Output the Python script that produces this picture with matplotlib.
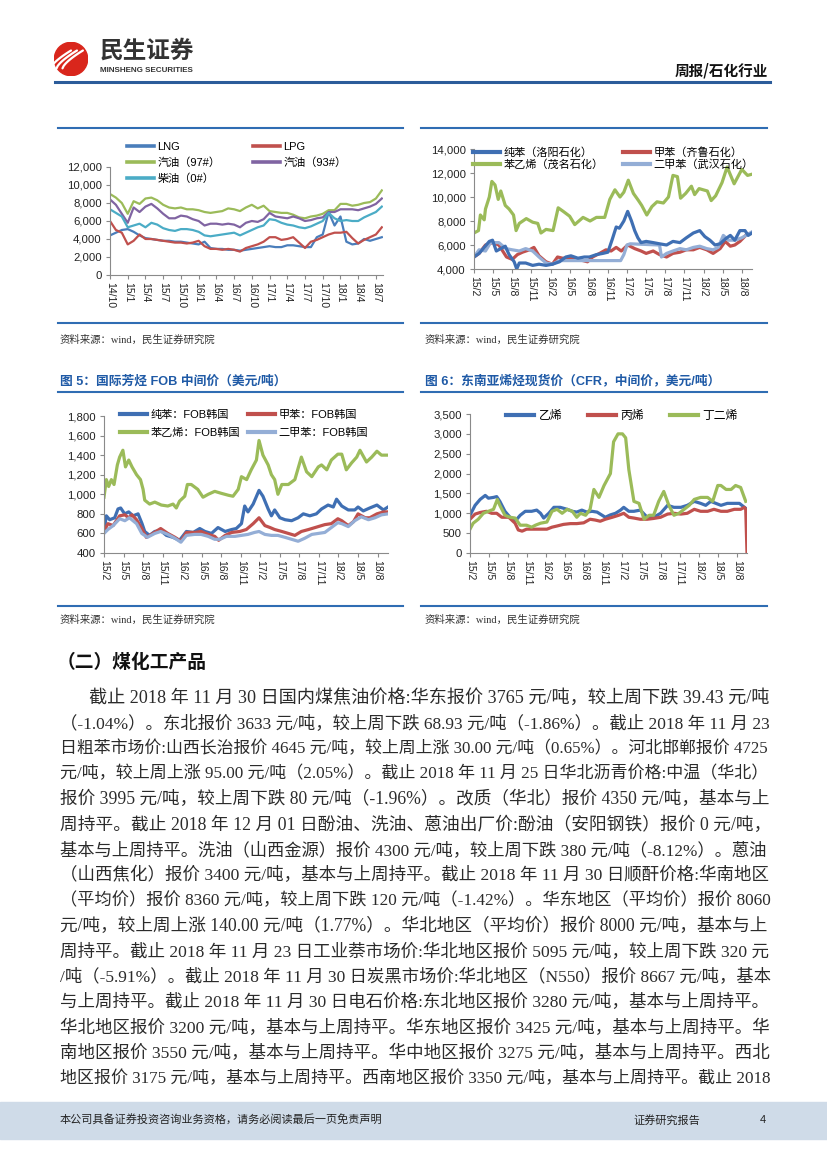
import numpy as np
import matplotlib.pyplot as plt
from matplotlib.font_manager import FontProperties
from matplotlib.legend import Legend
from matplotlib.lines import Line2D
from matplotlib.patches import Circle, Rectangle

CJK = 'Noto Sans CJK SC'
SANS = ['Liberation Sans', CJK]
SERIF = ['Liberation Serif', CJK]
plt.rcParams['font.family'] = SANS

W, H = 827, 1169
BLUE = '#2f6db3'
TITLE_BLUE = '#1f5aa6'

# ---------------- data ----------------
# chart 1: domestic oil products, monthly from 14/10 (yuan/t)
c1_month = list(range(47))
c1_labels = ['14/10', '15/1', '15/4', '15/7', '15/10', '16/1', '16/4', '16/7',
             '16/10', '17/1', '17/4', '17/7', '17/10', '18/1', '18/4', '18/7']
lng = [4400, 4700, 5000, 5100, 4800, 4400, 4100, 4000, 3900, 3800,
       3800, 3700, 3700, 3600, 3500, 3400, 3700, 3000, 2900, 2900,
       2800, 2800, 2700, 2800, 2900, 3000, 3100, 3200, 3100, 3100,
       3300, 3300, 3200, 3100, 3100, 4200, 4500, 7000, 5500, 6500,
       3700, 3400, 3500, 4000, 3800, 4000, 4200]
lpg = [6000, 5000, 4700, 3400, 3800, 4500, 4000, 4000, 3900, 3800,
       3700, 3600, 3600, 3500, 3600, 3800, 3200, 2900, 2900, 2800,
       2900, 2800, 2600, 3000, 3200, 3400, 3700, 4200, 4200, 3900,
       4000, 4200, 3600, 3000, 3700, 3900, 4200, 4500, 4700, 4700,
       4800, 4100, 3500, 3900, 4200, 4500, 5300]
gas97 = [9000, 8600, 8000, 6800, 8200, 7900, 8500, 8600, 8300, 7800,
         7500, 7400, 7500, 7300, 7300, 7200, 7000, 6900, 7000, 7100,
         7400, 7300, 7100, 7500, 7800, 7400, 7700, 7100, 7000, 6900,
         6900, 6700, 6400, 6300, 6500, 6600, 6800, 7200, 7200, 7900,
         7900, 7700, 7800, 8000, 8100, 8500, 9400]
gas93 = [8400, 7800, 6800, 5800, 7500, 7000, 7600, 7900, 7400, 6800,
         6300, 6300, 6600, 6500, 6200, 6000, 5500, 5700, 5700, 5600,
         5700, 5600, 5300, 5800, 6000, 5900, 6200, 6900, 6500, 6400,
         6300, 6500, 6300, 6000, 6100, 6300, 6400, 7000, 7000, 7300,
         7300, 7300, 7200, 7400, 7600, 7900, 8500]
diesel = [7300, 6900, 6500, 5300, 5500, 5700, 5300, 5800, 5600, 5200,
          5000, 4900, 5100, 5100, 5000, 4800, 4400, 4300, 4400, 4500,
          4600, 4700, 4400, 4700, 5000, 5300, 5500, 6200, 6100, 5800,
          5600, 5500, 5300, 5200, 5400, 5700, 6000, 6900, 6300, 6000,
          6100, 6000, 6000, 6400, 6700, 7000, 7600]

# charts 2-4: (months since 15/2, value)
c2_labels = ['15/2', '15/5', '15/8', '15/11', '16/2', '16/5', '16/8', '16/11',
             '17/2', '17/5', '17/8', '17/11', '18/2', '18/5', '18/8']

benzene_cn = [(0, 5000), (0.8, 5300), (1.6, 5800), (2.4, 6300), (2.9, 6400), (3.5, 5500),
              (4.2, 5700), (4.9, 5900), (5.5, 5200), (6.3, 4600), (6.7, 4000), (7.1, 4500),
              (8.1, 4500), (9.2, 4300), (10.2, 4400), (11.3, 4300), (12.3, 4400), (13.4, 4600),
              (14.4, 5000), (15.2, 5100), (16.3, 4900), (17.3, 5000), (18.1, 5000), (19.2, 5200),
              (20.2, 5300), (21, 5400), (21.7, 6500), (22.3, 7500), (22.8, 7400), (23.5, 8000),
              (24.1, 8800), (24.7, 8000), (25.2, 7200), (25.7, 6600), (26.2, 6200), (27, 6300),
              (28.1, 6200), (29.1, 6100), (30.2, 6000), (31.2, 6300), (32.3, 6200), (33.3, 6600),
              (34.4, 7000), (35.4, 7200), (36.2, 6700), (37, 6400), (37.8, 6000), (38.6, 6100),
              (39.4, 6500), (40.2, 6800), (40.9, 6400), (41.7, 7200), (42.5, 7200), (43, 6800),
              (43.6, 7000)]
toluene_cn = [(0, 5000), (0.8, 5300), (1.8, 6000), (2.9, 6200), (3.9, 6000), (5.1, 5000),
              (6, 4800), (6.8, 5200), (7.6, 5400), (8.7, 5600), (9.4, 5800), (10.2, 5100),
              (11.3, 4600), (12.3, 4400), (13.1, 5000), (13.9, 4900), (15, 4900), (16, 4800),
              (17.1, 4700), (17.8, 4600), (18.6, 5000), (19.7, 5300), (20.7, 5600), (21.5, 5500),
              (22.3, 5800), (23.1, 5500), (24.1, 6000), (25.2, 5700), (26.2, 5500), (27, 5300),
              (28.1, 5500), (29.1, 5200), (30.2, 5000), (31.2, 5300), (32.3, 5400), (33.3, 5600),
              (34.4, 5600), (35.4, 5800), (36.5, 5600), (37.5, 5300), (38.6, 5700), (39.4, 6300),
              (40.2, 5900), (40.9, 6000), (41.7, 6300), (42.8, 6900), (43.6, 7000)]
styrene_cn = [(0, 7000), (0.7, 7200), (1, 8500), (1.6, 8100), (1.8, 9000), (2.4, 10000),
              (2.8, 11300), (3.3, 11000), (3.8, 9800), (4.2, 10500), (4.9, 9300), (5.5, 9000),
              (6.2, 8500), (6.6, 7200), (7.1, 7800), (8.2, 8200), (9.2, 7900), (10, 7800),
              (10.5, 7000), (11.3, 7300), (12.4, 7200), (13.2, 9100), (14, 8800), (15, 8400),
              (15.8, 7700), (17.1, 8300), (18.2, 8000), (19.2, 8300), (20.5, 8300), (21.3, 9800),
              (22.1, 10600), (22.9, 10000), (23.5, 10400), (24.2, 11400), (25, 10300), (25.8, 9700),
              (26.3, 9300), (27.1, 8500), (27.9, 9200), (28.7, 9600), (29.7, 9500), (30.5, 10000),
              (31.2, 11800), (31.9, 11700), (32.4, 9900), (33.2, 10300), (34.1, 10900), (34.6, 10200),
              (35.3, 10700), (36.6, 10500), (37.2, 9700), (37.9, 10100), (38.9, 11200), (39.7, 12500),
              (40.8, 11100), (42, 12300), (42.9, 11800), (43.6, 11900)]
xylene_cn = [(0, 5000), (0.8, 5600), (1.8, 5500), (2.6, 6200), (3.9, 6200), (5, 5700),
             (6, 5600), (7.1, 5500), (8.1, 5700), (9.2, 5500), (10.2, 5000), (11.3, 4500),
             (12.3, 4400), (13.4, 4700), (23, 4700), (23.5, 5200), (24, 6000), (24.5, 6100),
             (29.1, 6000), (29.4, 5000), (30.2, 5300), (31.2, 5500), (32.3, 5700), (33.3, 5600),
             (34.4, 5800), (35.4, 5900), (36.5, 5700), (37.5, 5600), (38.3, 5800), (39.1, 6800),
             (39.9, 6400), (40.9, 6400), (42, 6600), (43, 6900), (43.6, 7100)]

benzene_fob = [(0, 620), (0.36, 780), (0.87, 740), (1.64, 760), (2.15, 850), (2.56, 860),
               (3.17, 800), (3.79, 820), (4.46, 780), (5.23, 800), (5.84, 700), (6.25, 620),
               (7, 580), (7.79, 620), (8.7, 630), (9.58, 580), (10.6, 560), (11.6, 530),
               (12.65, 620), (13.7, 610), (14.7, 650), (15.5, 620), (16.5, 600), (17.5, 660),
               (18.6, 620), (19.6, 640), (20.3, 650), (21.1, 700), (21.6, 880), (22.1, 820),
               (22.9, 900), (23.8, 1040), (24.4, 980), (25.2, 850), (25.7, 780), (26.2, 840),
               (27, 760), (27.8, 740), (28.8, 730), (29.8, 760), (30.6, 800), (31.6, 780),
               (32.6, 800), (33.4, 850), (34.4, 890), (35.2, 870), (35.7, 950), (36.5, 880),
               (37.5, 840), (38.5, 840), (39, 870), (39.8, 830), (40.8, 860), (41.9, 890),
               (42.9, 840), (43.6, 870)]
toluene_fob = [(0, 620), (0.6, 700), (1.4, 680), (2.4, 780), (3.2, 790), (3.8, 760),
               (4.3, 790), (5, 740), (5.8, 650), (6.5, 560), (7.5, 600), (8.7, 650),
               (9.8, 600), (10.9, 560), (11.8, 520), (12.65, 610), (13.9, 610), (14.9, 620),
               (16, 590), (17, 570), (17.6, 530), (18.6, 580), (19.6, 610), (20.85, 620),
               (21.85, 640), (22.9, 700), (23.8, 760), (24.7, 680), (25.5, 660), (26.2, 640),
               (27.3, 620), (28.3, 600), (29.3, 580), (30.3, 620), (31.4, 640), (32.9, 670),
               (33.9, 690), (34.9, 700), (35.9, 750), (36.5, 730), (37.5, 680), (38.3, 720),
               (39, 800), (40.1, 760), (40.8, 760), (41.9, 800), (42.9, 820), (43.6, 820)]
styrene_fob = [(0, 970), (0.36, 1150), (0.72, 1080), (1.13, 1150), (1.54, 1100), (2.05, 1300),
               (2.4, 1380), (2.9, 1450), (3.3, 1280), (3.8, 1350), (4.3, 1280), (5, 1200),
               (5.6, 1150), (6, 1050), (6.25, 940), (7, 900), (7.8, 920), (8.8, 890),
               (9.8, 880), (10.6, 900), (11.1, 860), (11.6, 930), (12.4, 980), (12.8, 1100),
               (13.4, 1100), (14.4, 1050), (15.2, 970), (16, 1000), (17, 1030), (18, 1010),
               (19.1, 990), (19.8, 980), (20.6, 1050), (21.1, 1180), (21.9, 1150), (22.6, 1250),
               (23.4, 1350), (23.8, 1550), (24.4, 1400), (25.2, 1300), (25.7, 1200), (26.2, 1150),
               (26.7, 1000), (27.3, 1100), (28.3, 1100), (29.3, 1150), (30.3, 1380), (31.1, 1230),
               (31.9, 1180), (32.9, 1280), (33.4, 1300), (34.2, 1250), (34.9, 1350), (35.9, 1410),
               (36.5, 1410), (37.2, 1250), (38, 1320), (38.8, 1380), (39.3, 1450), (40.3, 1330),
               (41.1, 1380), (41.9, 1440), (42.6, 1400), (43.6, 1400)]
xylene_fob = [(0, 600), (0.6, 640), (1.4, 680), (2.4, 750), (3.2, 730), (3.9, 760),
              (5, 700), (5.8, 600), (6.65, 560), (7.8, 600), (8.7, 620), (9.8, 590),
              (10.9, 550), (11.8, 510), (12.65, 580), (13.9, 590), (14.9, 590), (16, 570),
              (17, 540), (17.8, 540), (18.8, 570), (20.1, 570), (21.1, 580), (22.1, 590),
              (23.1, 610), (23.8, 620), (24.7, 590), (25.7, 580), (26.7, 580), (27.8, 560),
              (28.8, 540), (29.8, 520), (30.8, 550), (31.9, 590), (32.9, 600), (33.9, 610),
              (34.9, 660), (35.9, 710), (36.5, 700), (37.5, 670), (38.5, 730), (39.5, 770),
              (40.6, 740), (41.6, 760), (42.6, 790), (43.6, 800)]

ethylene = [(0, 950), (0.8, 1200), (1.6, 1350), (2.4, 1450), (2.9, 1380), (3.7, 1400),
            (4.2, 1420), (4.7, 1300), (5.5, 1050), (6.3, 900), (7.1, 800), (7.9, 950),
            (8.7, 1050), (9.7, 1050), (10.5, 1080), (11.1, 1000), (11.6, 880), (12.4, 1000),
            (13.2, 1150), (14.2, 1150), (15.3, 1100), (16.1, 1050), (16.8, 1030), (17.6, 1080),
            (18.4, 1030), (19.2, 1050), (20, 1030), (20.8, 950), (21.3, 900), (22.1, 960),
            (22.9, 1000), (23.7, 1080), (24.2, 1150), (25, 1050), (25.8, 1050), (26.8, 1080),
            (27.9, 900), (28.9, 900), (30, 1000), (31.1, 1200), (32.1, 1150), (33.2, 1150),
            (34.2, 1200), (35.3, 1300), (36.3, 1250), (37.1, 1200), (37.9, 1300), (38.7, 1250),
            (39.5, 1200), (40.5, 1250), (41.3, 1250), (42.4, 1250), (43.2, 1150), (43.6, 1100)]
propylene = [(0, 850), (0.8, 980), (1.6, 1020), (2.6, 1050), (3.4, 1000), (4.2, 1000),
             (5, 900), (6.1, 900), (7.1, 750), (7.6, 580), (8.2, 550), (8.9, 600),
             (10, 600), (11.1, 600), (12.1, 600), (12.9, 650), (13.7, 680), (14.7, 720),
             (15.8, 740), (16.8, 740), (17.9, 760), (18.9, 850), (19.7, 830), (20.5, 800),
             (21.3, 850), (22.4, 900), (23.4, 950), (24.2, 1000), (25, 900), (25.8, 880),
             (26.8, 850), (27.9, 850), (28.9, 870), (30, 900), (31.1, 980), (32.1, 1000),
             (33.2, 980), (34.2, 1000), (35.3, 1100), (36.3, 1050), (37.4, 1050), (38.4, 1100),
             (39.5, 1050), (40.5, 1050), (41.6, 1100), (42.6, 1100), (43.2, 1150), (43.4, 1100),
             (43.6, 0)]
butadiene = [(0, 600), (0.5, 750), (1.3, 850), (2.1, 1000), (2.9, 1050), (3.7, 1100),
             (4.3, 1350), (4.7, 1200), (5.5, 950), (6.3, 900), (7.1, 880), (7.9, 700),
             (8.9, 700), (9.7, 650), (10.3, 700), (11.1, 750), (12.1, 780), (12.9, 1050),
             (13.7, 1100), (14.5, 1000), (15.3, 1100), (16.1, 1050), (16.8, 900), (17.4, 1000),
             (18.2, 950), (18.9, 1100), (19.5, 1600), (20.3, 1400), (21.1, 1700), (22.1, 2000),
             (22.6, 2800), (23.3, 3000), (24, 3000), (24.5, 2900), (25, 2100), (25.8, 1300),
             (26.6, 1250), (27.4, 850), (28.2, 950), (28.9, 950), (29.7, 1300), (30.5, 1550),
             (31.3, 1200), (32.1, 950), (32.9, 1000), (33.7, 1100), (34.5, 1200), (35.3, 1350),
             (36.3, 1400), (37.4, 1400), (38.2, 1300), (39, 1700), (39.5, 1700), (40.3, 1600),
             (41.1, 1600), (41.8, 1700), (42.6, 1650), (43.4, 1300)]

body_lines = [
    '截止 2018 年 11 月 30 日国内煤焦油价格:华东报价 3765 元/吨，较上周下跌 39.43 元/吨',
    '（-1.04%）。东北报价 3633 元/吨，较上周下跌 68.93 元/吨（-1.86%）。截止 2018 年 11 月 23',
    '日粗苯市场价:山西长治报价 4645 元/吨，较上周上涨 30.00 元/吨（0.65%）。河北邯郸报价 4725',
    '元/吨，较上周上涨 95.00 元/吨（2.05%）。截止 2018 年 11 月 25 日华北沥青价格:中温（华北）',
    '报价 3995 元/吨，较上周下跌 80 元/吨（-1.96%）。改质（华北）报价 4350 元/吨，基本与上',
    '周持平。截止 2018 年 12 月 01 日酚油、洗油、蒽油出厂价:酚油（安阳钢铁）报价 0 元/吨，',
    '基本与上周持平。洗油（山西金源）报价 4300 元/吨，较上周下跌 380 元/吨（-8.12%）。蒽油',
    '（山西焦化）报价 3400 元/吨，基本与上周持平。截止 2018 年 11 月 30 日顺酐价格:华南地区',
    '（平均价）报价 8360 元/吨，较上周下跌 120 元/吨（-1.42%）。华东地区（平均价）报价 8060',
    '元/吨，较上周上涨 140.00 元/吨（1.77%）。华北地区（平均价）报价 8000 元/吨，基本与上',
    '周持平。截止 2018 年 11 月 23 日工业萘市场价:华北地区报价 5095 元/吨，较上周下跌 320 元',
    '/吨（-5.91%）。截止 2018 年 11 月 30 日炭黑市场价:华北地区（N550）报价 8667 元/吨，基本',
    '与上周持平。截止 2018 年 11 月 30 日电石价格:东北地区报价 3280 元/吨，基本与上周持平。',
    '华北地区报价 3200 元/吨，基本与上周持平。华东地区报价 3425 元/吨，基本与上周持平。华',
    '南地区报价 3550 元/吨，基本与上周持平。华中地区报价 3275 元/吨，基本与上周持平。西北',
    '地区报价 3175 元/吨，基本与上周持平。西南地区报价 3350 元/吨，基本与上周持平。截止 2018',
]

# ---------------- page ----------------
fig = plt.figure(figsize=(W / 100, H / 100), dpi=100)


def fx(x):
    return x / W


def fy(y):
    return 1 - y / H


def hline(x0, x1, y, color=BLUE, lw=1.5):
    fig.add_artist(Line2D([fx(x0), fx(x1)], [fy(y), fy(y)], color=color, lw=lw,
                          transform=fig.transFigure))


# logo
lax = fig.add_axes([fx(54), fy(76), 34 / W, 34 / H])
lax.set_xlim(-1, 1)
lax.set_ylim(-1, 1)
lax.set_aspect('equal')
lax.axis('off')
lax.add_patch(Circle((0, 0), 0.98, color='#d9261c'))
for dx in [-0.45, -0.1, 0.25]:
    tt = np.linspace(0, 1, 20)
    lax.plot(-0.75 + dx + 1.2 * tt, -0.55 + 1.05 * tt ** 0.7, color='white', lw=1.6,
             solid_capstyle='round')
fig.text(fx(100), fy(51), '民生证券', fontsize=17, fontweight='bold', color='#333333',
         family=CJK, va='center', ha='left')
fig.text(fx(100), fy(71), 'MINSHENG SECURITIES', fontsize=5.8, fontweight='bold',
         color='#333333', family='Liberation Sans', va='center', ha='left')
fig.text(fx(768), fy(70), '周报/石化行业', fontsize=10.5, fontweight='bold', color='#111111',
         family=CJK, va='center', ha='right')
hline(55, 770, 82, color='#2b5c9a', lw=2.2)

# frame lines and captions
for x0, x1 in [(58, 403), (421, 767)]:
    hline(x0, x1, 128)
    hline(x0, x1, 323)
    hline(x0, x1, 392)
    hline(x0, x1, 606)
for x0 in [60, 425]:
    fig.text(fx(x0), fy(340), '资料来源：wind，民生证券研究院', fontsize=7.5, color='#333333',
             family=SERIF, va='center')
    fig.text(fx(x0), fy(620), '资料来源：wind，民生证券研究院', fontsize=7.5, color='#333333',
             family=SERIF, va='center')
fig.text(fx(60), fy(381), '图 5：国际芳烃 FOB 中间价（美元/吨）', fontsize=9.2, fontweight='bold',
         color=TITLE_BLUE, family=SANS, va='center')
fig.text(fx(425), fy(381), '图 6：东南亚烯烃现货价（CFR，中间价，美元/吨）', fontsize=9.2,
         fontweight='bold', color=TITLE_BLUE, family=SANS, va='center')


def chart(l, t, r, b, ylim, ystep, labels, xmax):
    ax = fig.add_axes([fx(l), fy(b), (r - l) / W, (b - t) / H])
    ax.set_facecolor('none')
    ax.set_xlim(0, xmax)
    ax.set_ylim(*ylim)
    ax.set_yticks(np.arange(ylim[0], ylim[1] + 1, ystep))
    ax.yaxis.set_major_formatter(lambda v, p: f'{v:,.0f}')
    ax.set_xticks(np.arange(0, 3 * len(labels), 3))
    ax.set_xticklabels(labels, rotation=-90)
    for s in ['top', 'right']:
        ax.spines[s].set_visible(False)
    for s in ['left', 'bottom']:
        ax.spines[s].set_color('#8a8a8a')
        ax.spines[s].set_linewidth(0.8)
    ax.tick_params(direction='out', length=3, width=0.8, color='#8a8a8a',
                   labelsize=7.5, labelcolor='#222222', pad=2)
    ax.tick_params(axis='y', labelsize=8.2, pad=3)
    return ax


def legend_col(ax, items, x, y, lw, spacing, fs=8):
    hs = [Line2D([], [], color=c, lw=lw) for c, _ in items]
    lg = Legend(ax, hs, [lab for _, lab in items], loc='upper left',
                bbox_to_anchor=(fx(x), fy(y)), bbox_transform=fig.transFigure,
                frameon=False, prop=FontProperties(family=SANS, size=fs),
                handlelength=2.4, handletextpad=0.35, labelspacing=spacing,
                borderpad=0, borderaxespad=0)
    ax.add_artist(lg)


def plot_pairs(ax, pairs, color, lw):
    t, v = zip(*pairs)
    ax.plot(t, v, color=color, lw=lw, solid_joinstyle='round')


C_BLUE1, C_RED, C_GREEN, C_PURPLE, C_CYAN = '#4a7ebb', '#c0504d', '#9bbb59', '#8064a2', '#4bacc6'
C_BLUE2, C_LBLUE = '#3f6fb3', '#94aed6'

# chart 1
ax1 = chart(110, 167, 383, 275, (0, 12000), 2000, c1_labels, 46.2)
for vals, c in [(lng, C_BLUE1), (lpg, C_RED), (gas97, C_GREEN), (gas93, C_PURPLE),
                (diesel, C_CYAN)]:
    ax1.plot(c1_month, vals, color=c, lw=1.6)
legend_col(ax1, [(C_BLUE1, 'LNG'), (C_GREEN, '汽油（97#）'), (C_CYAN, '柴油（0#）')],
           127, 142, 2.6, 0.5)
legend_col(ax1, [(C_RED, 'LPG'), (C_PURPLE, '汽油（93#）')], 253, 142, 2.6, 0.5)

# chart 2
ax2 = chart(474, 149, 752, 269, (4000, 14000), 2000, c2_labels, 43.6)
for pairs, c in [(styrene_cn, C_GREEN), (toluene_cn, C_RED), (xylene_cn, C_LBLUE),
                 (benzene_cn, C_BLUE2)]:
    plot_pairs(ax2, pairs, c, 2.3)
legend_col(ax2, [(C_BLUE2, '纯苯（洛阳石化）'), (C_GREEN, '苯乙烯（茂名石化）')], 473, 147, 3, 0.18)
legend_col(ax2, [(C_RED, '甲苯（齐鲁石化）'), (C_LBLUE, '二甲苯（武汉石化）')], 623, 147, 3, 0.18)

# chart 3
ax3 = chart(104, 416, 388, 553, (400, 1800), 200, c2_labels, 43.6)
for pairs, c in [(styrene_fob, C_GREEN), (benzene_fob, C_BLUE2), (toluene_fob, C_RED),
                 (xylene_fob, C_LBLUE)]:
    plot_pairs(ax3, pairs, c, 2.3)
legend_col(ax3, [(C_BLUE2, '纯苯：FOB韩国'), (C_GREEN, '苯乙烯：FOB韩国')], 120, 410, 3, 0.72)
legend_col(ax3, [(C_RED, '甲苯：FOB韩国'), (C_LBLUE, '二甲苯：FOB韩国')], 248, 410, 3, 0.72)

# chart 4
ax4 = chart(470, 414, 747, 553, (0, 3500), 500, c2_labels, 43.6)
for pairs, c in [(ethylene, C_BLUE2), (propylene, C_RED), (butadiene, C_GREEN)]:
    plot_pairs(ax4, pairs, c, 2.3)
legend_col(ax4, [(C_BLUE2, '乙烯')], 506, 410, 3, 0.5, fs=8.5)
legend_col(ax4, [(C_RED, '丙烯')], 588, 410, 3, 0.5, fs=8.5)
legend_col(ax4, [(C_GREEN, '丁二烯')], 670, 410, 3, 0.5, fs=8.5)

# section heading and body
fig.text(fx(57), fy(662), '（二）煤化工产品', fontsize=13.5, fontweight='bold', color='#111111',
         family=CJK, va='center')
body = []
for i, line in enumerate(body_lines):
    x0 = 89 if i == 0 else 60
    body.append((fig.text(fx(x0), fy(698 + i * 25.4), line, fontsize=11.5, color='#2b2b2b',
                          family=SERIF, va='center'), x0))
fig.canvas.draw()
rend = fig.canvas.get_renderer()
for txt, x0 in body:
    w = txt.get_window_extent(rend).width
    txt.set_fontsize(11.5 * (770 - x0) / w)

# footer
fig.add_artist(Rectangle((0, fy(1139)), 1, 37 / H, color='#cfdbe8', transform=fig.transFigure,
                         zorder=0))
fig.text(fx(60), fy(1120), '本公司具备证券投资咨询业务资格，请务必阅读最后一页免责声明', fontsize=8,
         color='#222222', family=CJK, va='center')
fig.text(fx(633), fy(1120), '证券研究报告', fontsize=8, color='#222222', family=CJK, va='center')
fig.text(fx(760), fy(1120), '4', fontsize=8, color='#222222', family=SANS, va='center')

fig.savefig('out.png', dpi=100)
